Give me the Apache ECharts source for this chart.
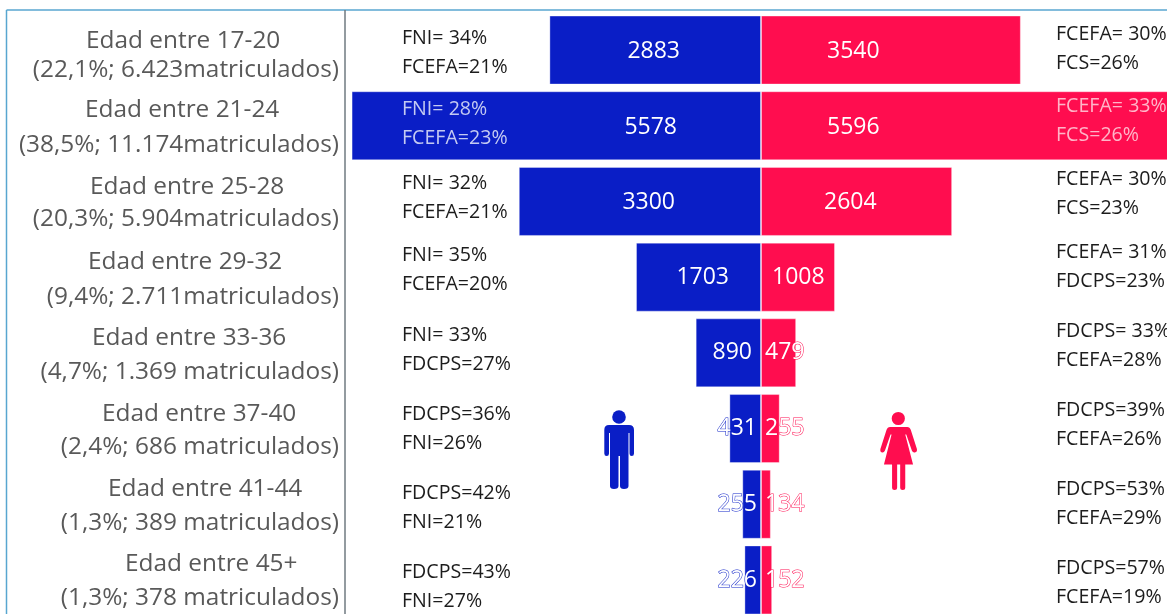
<!DOCTYPE html>
<html><head><meta charset="utf-8">
<style>html,body{margin:0;padding:0;background:#fff}#c{width:1167px;height:614px}</style>
<script src="https://cdn.jsdelivr.net/npm/echarts@6/dist/echarts.min.js"></script>
</head><body><div id="c"></div>
<script>
const ageLabels = ['Edad entre 17-20','Edad entre 21-24','Edad entre 25-28','Edad entre 29-32','Edad entre 33-36','Edad entre 37-40','Edad entre 41-44','Edad entre 45+'];
const shareLabels = ['(22,1%; 6.423matriculados)','(38,5%; 11.174matriculados)','(20,3%; 5.904matriculados)','(9,4%; 2.711matriculados)','(4,7%; 1.369 matriculados)','(2,4%; 686 matriculados)','(1,3%; 389 matriculados)','(1,3%; 378 matriculados)'];
const men = [2883,5578,3300,1703,890,431,255,226];
const women = [3540,5596,2604,1008,479,255,134,152];
const menFaculties = [['FNI= 34%','FCEFA=21%'],['FNI= 28%','FCEFA=23%'],['FNI= 32%','FCEFA=21%'],['FNI= 35%','FCEFA=20%'],['FNI= 33%','FDCPS=27%'],['FDCPS=36%','FNI=26%'],['FDCPS=42%','FNI=21%'],['FDCPS=43%','FNI=27%']];
const womenFaculties = [['FCEFA= 30%','FCS=26%'],['FCEFA= 33%','FCS=26%'],['FCEFA= 30%','FCS=23%'],['FCEFA= 31%','FDCPS=23%'],['FDCPS= 33%','FCEFA=28%'],['FDCPS=39%','FCEFA=26%'],['FDCPS=53%','FCEFA=29%'],['FDCPS=57%','FCEFA=19%']];

// layout only
const BLUE='#0a1ec6', PINK='#ff0d4f';
const ageX=[86,85,90,88,92,102,108,125];
const line1Dy=[-9,-16,-14,-15,-15,-15,-15,-16];
const line2Dy=[20,19,18,20,19,18,19,18];
const menDy=[-12,-16,-18,-22,-17,-14,-11,-8];
const womenDy=[-16,-19,-22,-25,-21,-18,-15,-12];
const menLabelDist=[81,84,86,32,9,4,4,4];
const womenLabelDist=[66,66,63,11,4,4,4,4];
const labelDy=[1,2,1,0,0,0,0,1];
const manPath='M609,425 L629,425 Q634,425 634,430 L634,453.5 Q634,456 631.7,456 Q629.5,456 629.5,453.5 L629.5,433 L628.5,433 L628.5,486 Q628.5,489 624,489 Q620,489 620,486 L620,456 L618.5,456 L618.5,486 Q618.5,489 614,489 Q610,489 610,486 L610,433 L609,433 L609,453.5 Q609,456 606.7,456 Q604.3,456 604.3,453.5 L604.3,430 Q604.3,425 609,425 Z';
const womanPath='M890,427 H907 Q909.5,427 910.5,430 L916.5,449 Q917,452 914.5,452.5 Q912.5,453 911.5,450.5 L906,434.5 L905,434.5 L912.7,464.5 H905 V487.5 Q905,490 902.5,490 Q900,490 900,487.5 V464.5 H897 V487.5 Q897,490 894.5,490 Q892,490 892,487.5 V464.5 H884 L891.5,434.5 L890.5,434.5 L885,450.5 Q884,453 882,452.5 Q880,452 880.5,449 L886.5,430 Q887.5,427 890,427 Z';

const labelStyle = (color)=>({show:true,color:'#fff',fontFamily:'Open Sans',fontSize:23,textBorderColor:color,textBorderWidth:1});

const chart = echarts.init(document.getElementById('c'),null,{renderer:'canvas'});
function text(t,x,y,font,fill,align){
  return {type:'text',z2:50,style:{text:t,x,y,font,fill,textAlign:align||'left',textVerticalAlign:'middle'}};
}
chart.setOption({
  animation:false,
  backgroundColor:'#fff',
  grid:{left:349.96,top:12.2,width:822.08,height:605.6,containLabel:false,outerBoundsMode:'none'},
  xAxis:{type:'value',min:-5600,max:5600,show:false},
  yAxis:{type:'category',inverse:true,data:ageLabels,show:false},
  series:[
    {type:'bar',name:'Hombres',barWidth:69,barGap:'-100%',
     itemStyle:{color:BLUE,borderColor:'rgba(255,255,255,0.35)',borderWidth:1},
     data:men.map((v,i)=>({value:-v,label:{...labelStyle(BLUE),position:'insideRight',distance:menLabelDist[i],offset:[0,labelDy[i]],formatter:String(v)}}))},
    {type:'bar',name:'Mujeres',barWidth:69,
     itemStyle:{color:PINK,borderColor:'rgba(255,255,255,0.35)',borderWidth:1},
     data:women.map((v,i)=>({value:v,label:{...labelStyle(PINK),position:'insideLeft',distance:womenLabelDist[i],offset:[0,labelDy[i]],formatter:String(v)}}))},
    {type:'custom',silent:true,clip:false,z:10,
     data:ageLabels.map((_,i)=>[0,i]),
     encode:{x:0,y:1},
     renderItem(params,api){
       const i=api.value(1), y=api.coord([0,i])[1];
       const big='24.4px "Open Sans"', small='19.6px "Open Sans"';
       const menFill=i===1?'#c4caf2':'#1c1c1c', womenFill=i===1?'#ffb5c8':'#1c1c1c';
       return {type:'group',children:[
         text(ageLabels[i],ageX[i],y+line1Dy[i],big,'#595959'),
         text(shareLabels[i],339,y+line2Dy[i],big,'#595959','right'),
         text(menFaculties[i][0],402,y+menDy[i],small,menFill),
         text(menFaculties[i][1],402,y+menDy[i]+29,small,menFill),
         text(womenFaculties[i][0],1056,y+womenDy[i],small,womenFill),
         text(womenFaculties[i][1],1056,y+womenDy[i]+29,small,womenFill)
       ]};
     }},
    {type:'custom',silent:true,clip:false,z:11,
     data:[[0,0]],encode:{x:0,y:1},
     renderItem(){
       return {type:'group',children:[
         {type:'circle',shape:{cx:619,cy:417,r:6.8},style:{fill:BLUE}},
         {type:'path',shape:{pathData:manPath,layout:'cover',x:604.3,y:425,width:29.7,height:64},style:{fill:BLUE}},
         {type:'circle',shape:{cx:898.3,cy:418.5,r:6.6},style:{fill:PINK}},
         {type:'path',shape:{pathData:womanPath,layout:'cover',x:880.3,y:427,width:36.7,height:63},style:{fill:PINK}}
       ]};
     }}
  ],
  graphic:[
    {type:'line',silent:true,z:20,shape:{x1:6.5,y1:10,x2:1167,y2:10},style:{stroke:'#58a6d0',lineWidth:1.5}},
    {type:'line',silent:true,z:20,shape:{x1:6.5,y1:10,x2:6.5,y2:614},style:{stroke:'#58a6d0',lineWidth:1.5}},
    {type:'line',silent:true,z:20,shape:{x1:345,y1:10,x2:345,y2:614},style:{stroke:'#6f7a80',lineWidth:1.5}}
  ]
});
</script></body></html>
